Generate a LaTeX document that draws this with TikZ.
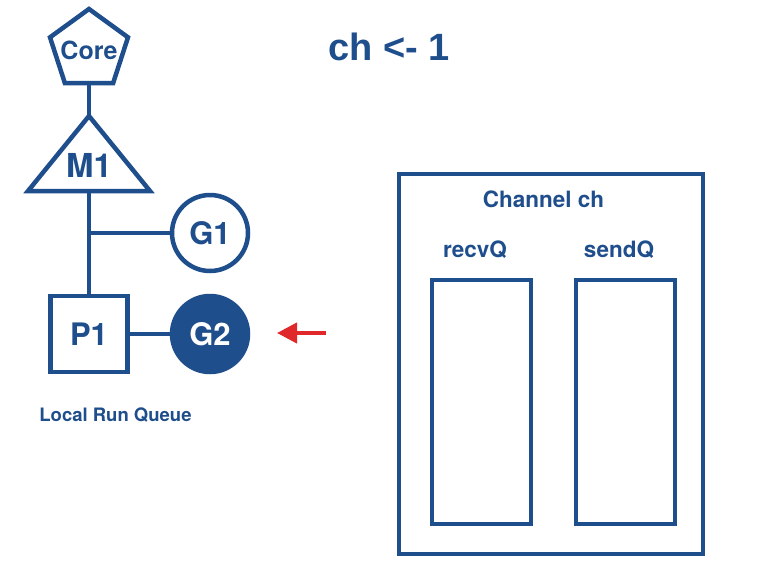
\documentclass[tikz,border=0pt]{standalone}
\usepackage{fontspec}
\setmainfont{TeX Gyre Heros}
\newfontfamily\opfont{Liberation Sans}
\usepackage{xcolor}
\usetikzlibrary{shapes.geometric,arrows.meta}
\definecolor{gonavy}{HTML}{1F4E8C}
\definecolor{gored}{HTML}{E0282A}
\newcommand{\fsz}[1]{\bfseries\fontsize{#1}{#1}\selectfont}
\tikzset{shape line/.style={draw=gonavy, line width=4.5pt},
    link/.style={draw=gonavy, line width=4pt},
    bluetext/.style={text=gonavy, inner sep=0pt},
    gor/.style={circle, shape line, minimum size=76pt, inner sep=0pt, bluetext, font=\fsz{31}},
    queue/.style={rectangle, shape line, minimum width=99pt, minimum height=244pt, inner sep=0pt},
    send arrow/.style={draw=gored, line width=4pt, -{Triangle[length=20pt,width=20pt]}}}

\begin{document}
\begin{tikzpicture}[x=1pt, y=-1pt]
    \fill[white] (0,0) rectangle (764,579);
    \useasboundingbox (0,0) rectangle (764,579);
    % Core and machine M1
    \node[regular polygon, regular polygon sides=5, shape line, minimum size=82pt,
        inner sep=0pt, label={[bluetext, font=\fsz{25}]center:Core}] (core) at (89,50) {};
    \coordinate (m1top) at (89,116);
    \coordinate (m1base) at (89,191);
    \draw[shape line, line join=miter] (m1top) -- (150,191) -- (28,191) -- cycle;
    \node[bluetext, font=\fsz{33}] (m1) at (89,165) {M1};
    \draw[link] (core.south) -- (m1top);
    %
    % processor P1 and goroutines
    \node[rectangle, shape line, minimum width=77pt, minimum height=76pt, inner sep=0pt,
        bluetext, font=\fsz{31}] (p1) at (89,334) {P1};
    \node[gor] (g1) at (210,233) {G1};
    \node[gor, fill=gonavy, text=white] (g2) at (210,334) {G2};
    \coordinate (fork) at (89,233);
    \draw[link] (m1base) -- (p1.north);
    \draw[link] (fork) -- (g1.west);
    \draw[link] (p1.east) -- (g2.west);
    \node[bluetext, anchor=base, font=\fsz{18.5}] (lrq) at (115.5,421) {Local Run Queue};
    %
    \coordinate (sendtail) at (326,333);
    \coordinate (sendtip) at (277,333);
    \draw[send arrow] (sendtail) -- (sendtip);
    \node[bluetext, anchor=base, font=\opfont\fsz{38}] (op) at (389,60) {ch <- 1};
    %
    % the channel
    \node[rectangle, shape line, line width=4pt, minimum width=304pt, minimum height=380pt,
        inner sep=0pt] (chan) at (551,364) {};
    \node[bluetext, anchor=base, font=\fsz{22.5}] (chname) at (543.5,207) {Channel ch};
    \node[bluetext, anchor=base, font=\fsz{22.5}] (recvname) at (475,257) {recvQ};
    \node[bluetext, anchor=base, font=\fsz{22.5}] (sendname) at (619,257) {sendQ};
    \node[queue] (recvq) at (481.5,402) {};
    \node[queue] (sendq) at (625.5,402) {};
\end{tikzpicture}
\end{document}
